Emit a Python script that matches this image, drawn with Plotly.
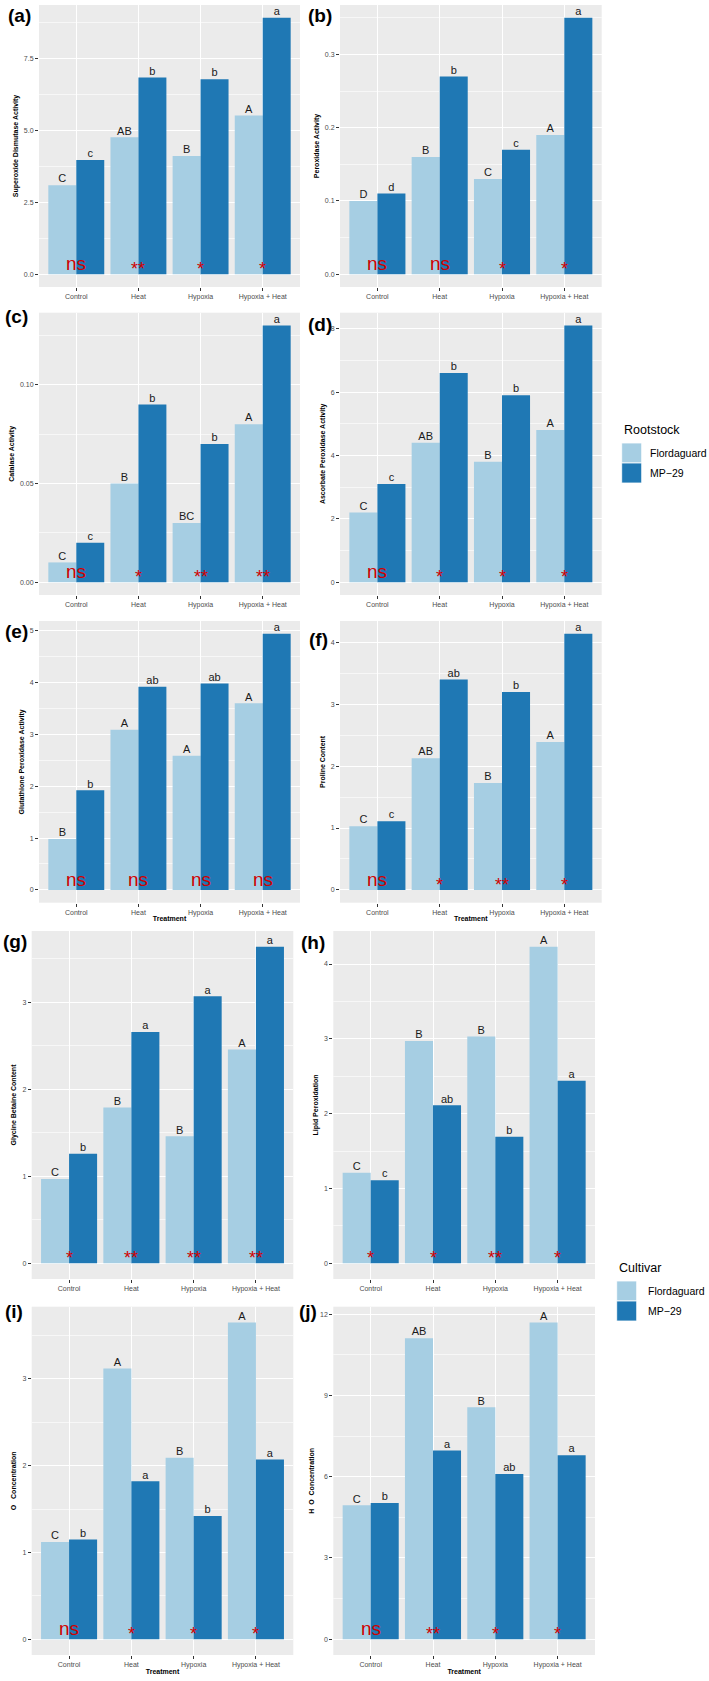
import plotly.graph_objects as go
from plotly.subplots import make_subplots

W, H = 709, 1681

treatments = ["Control", "Heat", "Hypoxia", "Hypoxia + Heat"]

# panel values: Flordaguard / MP-29
sod_flor = [3.09, 4.75, 4.10, 5.51]
sod_mp29 = [3.96, 6.83, 6.77, 8.90]
pod_flor = [0.10, 0.16, 0.13, 0.19]
pod_mp29 = [0.11, 0.27, 0.17, 0.35]
cat_flor = [0.010, 0.050, 0.030, 0.080]
cat_mp29 = [0.020, 0.090, 0.070, 0.130]
apx_flor = [2.2, 4.4, 3.8, 4.8]
apx_mp29 = [3.1, 6.6, 5.9, 8.1]
gpx_flor = [0.98, 3.09, 2.59, 3.60]
gpx_mp29 = [1.92, 3.92, 3.98, 4.94]
pro_flor = [1.03, 2.13, 1.73, 2.39]
pro_mp29 = [1.11, 3.40, 3.20, 4.14]
gb_flor = [0.97, 1.79, 1.46, 2.46]
gb_mp29 = [1.26, 2.66, 3.07, 3.64]
lp_flor = [1.21, 2.97, 3.03, 4.23]
lp_mp29 = [1.11, 2.11, 1.69, 2.44]
o2_flor = [1.12, 3.12, 2.09, 3.65]
o2_mp29 = [1.15, 1.82, 1.42, 2.07]
h2o2_flor = [4.94, 11.11, 8.56, 11.69]
h2o2_mp29 = [5.03, 6.97, 6.10, 6.79]

# letter groupings and significance marks
sod_lf, sod_lm, sod_sig = ["C", "AB", "B", "A"], ["c", "b", "b", "a"], ["ns", "**", "*", "*"]
pod_lf, pod_lm, pod_sig = ["D", "B", "C", "A"], ["d", "b", "c", "a"], ["ns", "ns", "*", "*"]
cat_lf, cat_lm, cat_sig = ["C", "B", "BC", "A"], ["c", "b", "b", "a"], ["ns", "*", "**", "**"]
apx_lf, apx_lm, apx_sig = ["C", "AB", "B", "A"], ["c", "b", "b", "a"], ["ns", "*", "*", "*"]
gpx_lf, gpx_lm, gpx_sig = ["B", "A", "A", "A"], ["b", "ab", "ab", "a"], ["ns", "ns", "ns", "ns"]
pro_lf, pro_lm, pro_sig = ["C", "AB", "B", "A"], ["c", "ab", "b", "a"], ["ns", "*", "**", "*"]
gb_lf, gb_lm, gb_sig = ["C", "B", "B", "A"], ["b", "a", "a", "a"], ["*", "**", "**", "**"]
lp_lf, lp_lm, lp_sig = ["C", "B", "B", "A"], ["c", "ab", "b", "a"], ["*", "*", "**", "*"]
o2_lf, o2_lm, o2_sig = ["C", "A", "B", "A"], ["b", "a", "b", "a"], ["ns", "*", "*", "*"]
h2o2_lf, h2o2_lm, h2o2_sig = ["C", "AB", "B", "A"], ["b", "a", "ab", "a"], ["ns", "**", "*", "*"]

legend_groups = ["Flordaguard", "MP\u221229"]

LIGHT = "#a6cee3"
DARK = "#1f78b4"
RED = "#d10000"
FONT = "Arial, Liberation Sans, sans-serif"

NBSP = "\u00a0"
panels = [
    # tag, flor, mp29, lf, lm, sig, ytitle, dtick, fmt, box(l, r, t, b), xtitle
    ("(a)", sod_flor, sod_mp29, sod_lf, sod_lm, sod_sig, "Superoxide Dismutase Activity", 2.5, ".1f", (39, 300, 5, 287), False),
    ("(b)", pod_flor, pod_mp29, pod_lf, pod_lm, pod_sig, "Peroxidase Activity", 0.1, ".1f", (340, 601.7, 5, 287), False),
    ("(c)", cat_flor, cat_mp29, cat_lf, cat_lm, cat_sig, "Catalase Activity", 0.05, ".2f", (39, 300, 312.7, 595), False),
    ("(d)", apx_flor, apx_mp29, apx_lf, apx_lm, apx_sig, "Ascorbate Peroxidase Activity", 2, "d", (340, 601.7, 312.7, 595), False),
    ("(e)", gpx_flor, gpx_mp29, gpx_lf, gpx_lm, gpx_sig, "Glutathione Peroxidase Activity", 1, "d", (39, 300, 621, 902.7), True),
    ("(f)", pro_flor, pro_mp29, pro_lf, pro_lm, pro_sig, "Proline Content", 1, "d", (340, 601.7, 621, 902.7), True),
    ("(g)", gb_flor, gb_mp29, gb_lf, gb_lm, gb_sig, "Glycine Betaine Content", 1, "d", (31.7, 293.3, 931, 1279), False),
    ("(h)", lp_flor, lp_mp29, lp_lf, lp_lm, lp_sig, "Lipid Peroxidation", 1, "d", (333.3, 595, 931, 1279), False),
    ("(i)", o2_flor, o2_mp29, o2_lf, o2_lm, o2_sig, "O" + NBSP * 3 + "Concentration", 1, "d", (31.7, 293.3, 1306.7, 1655), True),
    ("(j)", h2o2_flor, h2o2_mp29, h2o2_lf, h2o2_lm, h2o2_sig, "H" + NBSP * 2 + "O" + NBSP * 2 + "Concentration", 3, "d", (333.3, 595, 1306.7, 1655), True),
]

tag_pos = {
    "(a)": (6, 3), "(b)": (306, 3), "(c)": (3, 304), "(d)": (306, 312),
    "(e)": (3, 619), "(f)": (307, 627), "(g)": (1, 929), "(h)": (299, 930),
    "(i)": (3, 1299), "(j)": (297, 1299),
}

fig = make_subplots(rows=5, cols=2)
xs = [1, 2, 3, 4]

for i, (tag, flor, mp29, lf, lm, sig, ytitle, dtick, fmt, box, xtitle) in enumerate(panels):
    r, c = i // 2 + 1, i % 2 + 1
    fig.add_trace(go.Bar(x=xs, y=flor, width=0.45, offset=-0.45, marker_color=LIGHT,
                         marker_line_width=0, name=legend_groups[0], showlegend=False),
                  row=r, col=c)
    fig.add_trace(go.Bar(x=xs, y=mp29, width=0.45, offset=0, marker_color=DARK,
                         marker_line_width=0, name=legend_groups[1], showlegend=False),
                  row=r, col=c)
    fig.add_trace(go.Scatter(x=[x - 0.225 for x in xs] + [x + 0.225 for x in xs],
                             y=flor + mp29, text=lf + lm, mode="text",
                             textposition="top center", cliponaxis=False,
                             textfont=dict(size=11, color="#1a1a1a", family=FONT),
                             showlegend=False, hoverinfo="skip"), row=r, col=c)
    for x, s in zip(xs, sig):
        fig.add_annotation(x=x, y=0, text=s, showarrow=False, yanchor="bottom",
                           yshift=-2 if s == "ns" else -7,
                           font=dict(size=19 if s == "ns" else 18, color=RED, family=FONT),
                           row=r, col=c)

    top = max(flor + mp29)
    l, rr, t, b = box
    fig.update_xaxes(domain=[l / W, rr / W], range=[0.4, 4.6], tickvals=xs, ticktext=treatments,
                     row=r, col=c)
    fig.update_yaxes(domain=[1 - b / H, 1 - t / H], range=[-0.05 * top, 1.05 * top],
                     tick0=0, dtick=dtick, tickformat=fmt,
                     minor=dict(dtick=dtick / 2, showgrid=True, gridcolor="#f7f7f7", gridwidth=0.6, ticks=""),
                     title=dict(text=f"<b>{ytitle}</b>", font=dict(size=7, color="black"), standoff=4),
                     row=r, col=c)
    if xtitle:
        fig.update_xaxes(title=dict(text="<b>Treatment</b>", font=dict(size=7, color="black"), standoff=0),
                         row=r, col=c)
    tx, ty = tag_pos[tag]
    fig.add_annotation(x=tx / W, y=1 - ty / H, xref="paper", yref="paper", text=f"<b>{tag}</b>",
                       showarrow=False, xanchor="left", yanchor="top",
                       font=dict(size=19, color="black", family=FONT))

fig.update_xaxes(showgrid=True, gridcolor="white", gridwidth=1.1, zeroline=False,
                 ticks="outside", ticklen=3, tickcolor="#333333", showline=False,
                 tickfont=dict(size=7, color="#4d4d4d"))
fig.update_yaxes(showgrid=True, gridcolor="white", gridwidth=1.1, zeroline=False,
                 ticks="outside", ticklen=3, tickcolor="#333333", showline=False,
                 tickfont=dict(size=7, color="#4d4d4d"))

# two ggplot-style legends (Rootstock on top half, Cultivar on bottom half)
for title, lx, ty, txt_x in [("Rootstock", 621.7, 430, 648), ("Cultivar", 616.7, 1268, 645.7)]:
    fig.add_annotation(x=lx / W, y=1 - ty / H, xref="paper", yref="paper", text=title,
                       showarrow=False, xanchor="left", yanchor="middle",
                       font=dict(size=12.5, color="black", family=FONT))
    for k, (name, col) in enumerate(zip(legend_groups, [LIGHT, DARK])):
        y0 = ty + 13 + 20 * k
        fig.add_shape(type="rect", xref="paper", yref="paper",
                      x0=lx / W, x1=(lx + 20) / W, y0=1 - y0 / H, y1=1 - (y0 + 20) / H,
                      fillcolor=col, line=dict(color="white", width=0.8))
        fig.add_annotation(x=txt_x / W, y=1 - (y0 + 10) / H, xref="paper", yref="paper",
                           text=name, showarrow=False, xanchor="left", yanchor="middle",
                           font=dict(size=10.5, color="black", family=FONT))

fig.update_layout(
    width=W, height=H,
    barmode="overlay",
    paper_bgcolor="white",
    plot_bgcolor="#ebebeb",
    font=dict(family=FONT, color="black"),
    margin=dict(l=0, r=0, t=0, b=0),
    showlegend=False,
)

# page body has a default 8px margin; drop it so the figure fills the window
fig.write_html("out.html", config={"displayModeBar": False},
               post_script="document.body.style.margin='0';")
